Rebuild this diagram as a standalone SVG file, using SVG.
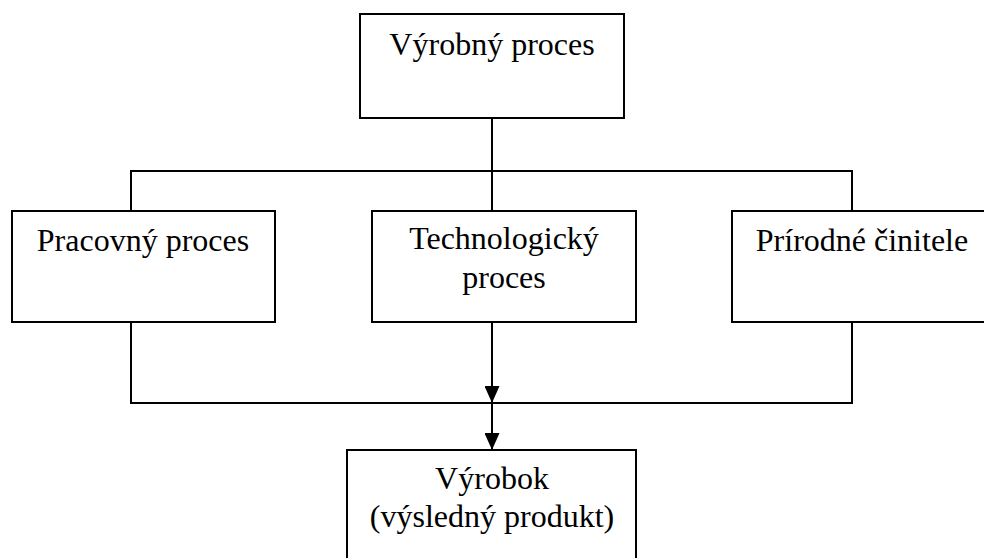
<svg xmlns="http://www.w3.org/2000/svg" width="984" height="558" viewBox="0 0 984 558">
  <style>
    .box { fill: #ffffff; stroke: #000000; stroke-width: 2; }
    .lbl { font-family: "Liberation Serif", "Times New Roman", serif; font-size: 32px; fill: #000000; text-anchor: middle; }
    .wire { fill: none; stroke: #000000; stroke-width: 2; }
  </style>
  <defs>
    <marker id="arrow" markerWidth="17" markerHeight="15" refX="17" refY="7.5" orient="auto" markerUnits="userSpaceOnUse" viewBox="0 0 17 15">
      <path d="M0,0 L17,7.5 L0,15 Z" fill="#000000"/>
    </marker>
  </defs>

  <rect width="984" height="558" fill="#ffffff"/>

  <g id="connectors">
    <!-- top distribution -->
    <path class="wire" d="M492,118 V171"/>
    <path class="wire" d="M131,211 V171 H852 V211"/>
    <path class="wire" d="M492,171 V211"/>
    <!-- bottom collection -->
    <path class="wire" d="M131,322 V403 H852 V322"/>
    <path class="wire" d="M492,322 V403" marker-end="url(#arrow)"/>
    <path class="wire" d="M492,403 V450" marker-end="url(#arrow)"/>
  </g>

  <g id="vyrobny-proces">
    <rect class="box" x="360" y="14" width="264" height="104"/>
    <text class="lbl" x="492" y="55">Výrobný proces</text>
  </g>

  <g id="pracovny-proces">
    <rect class="box" x="12" y="211" width="263" height="111"/>
    <text class="lbl" x="143" y="251">Pracovný proces</text>
  </g>

  <g id="technologicky-proces">
    <rect class="box" x="372" y="211" width="264" height="111"/>
    <text class="lbl" x="504" y="249">Technologický</text>
    <text class="lbl" x="504" y="288">proces</text>
  </g>

  <g id="prirodne-cinitele">
    <rect class="box" x="732" y="211" width="270" height="111"/>
    <text class="lbl" x="862" y="251">Prírodné činitele</text>
  </g>

  <g id="vyrobok">
    <rect class="box" x="347" y="450" width="289" height="120"/>
    <text class="lbl" x="492" y="489">Výrobok</text>
    <text class="lbl" x="492" y="527">(výsledný produkt)</text>
  </g>
</svg>
